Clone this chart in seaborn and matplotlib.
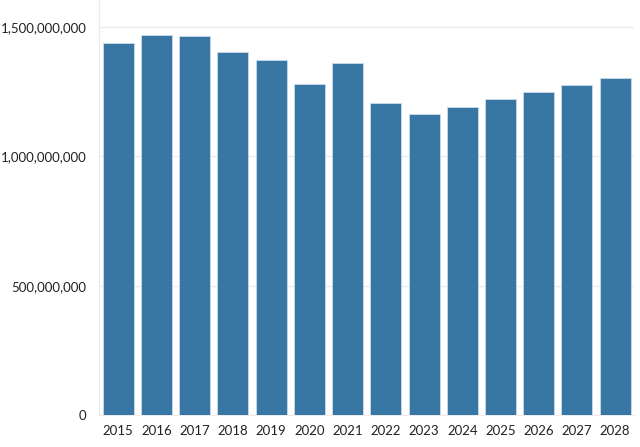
import matplotlib
matplotlib.use("Agg")
import matplotlib.pyplot as plt
import matplotlib.ticker as mticker
import pandas as pd
import seaborn as sns

# values
years = ["2015", "2016", "2017", "2018", "2019", "2020", "2021",
         "2022", "2023", "2024", "2025", "2026", "2027", "2028"]
values = [1.436e9, 1.467e9, 1.463e9, 1.402e9, 1.371e9, 1.279e9, 1.359e9,
          1.205e9, 1.162e9, 1.189e9, 1.222e9, 1.248e9, 1.275e9, 1.300e9]
y_ticks = [0, 500_000_000, 1_000_000_000, 1_500_000_000]

df = pd.DataFrame({"year": years, "value": values})

sns.set_style("white")
plt.rcParams["font.family"] = ["Lato", "DejaVu Sans"]

fig = plt.figure(figsize=(6.4, 4.47), dpi=100)
ax = fig.add_axes([0.155, 0.071, 0.836, 0.929])

sns.barplot(data=df, x="year", y="value", color="#3877a3", saturation=1,
            width=0.81, edgecolor="#c9dbe8", linewidth=0.6, ax=ax, zorder=3)

ax.set_ylim(0, 1.603e9)
ax.set_xlim(-0.5, len(years) - 0.5)
ax.set_yticks(y_ticks)
ax.yaxis.set_major_formatter(mticker.FuncFormatter(lambda v, p: f"{int(v):,}"))
ax.grid(axis="y", color="#ebebeb", linewidth=1, zorder=0)
ax.set_xlabel("")
ax.set_ylabel("")

for side in ["top", "right"]:
    ax.spines[side].set_visible(False)
ax.spines["left"].set_color("#ebebeb")
ax.spines["bottom"].set_color("#ebebeb")

ax.tick_params(axis="x", length=5, color="#dddddd", labelsize=9.5,
               labelcolor="#222222", pad=2)
ax.tick_params(axis="y", length=3, color="#ebebeb", labelsize=9.5,
               labelcolor="#222222", pad=6)

fig.savefig("out.png", dpi=100)
